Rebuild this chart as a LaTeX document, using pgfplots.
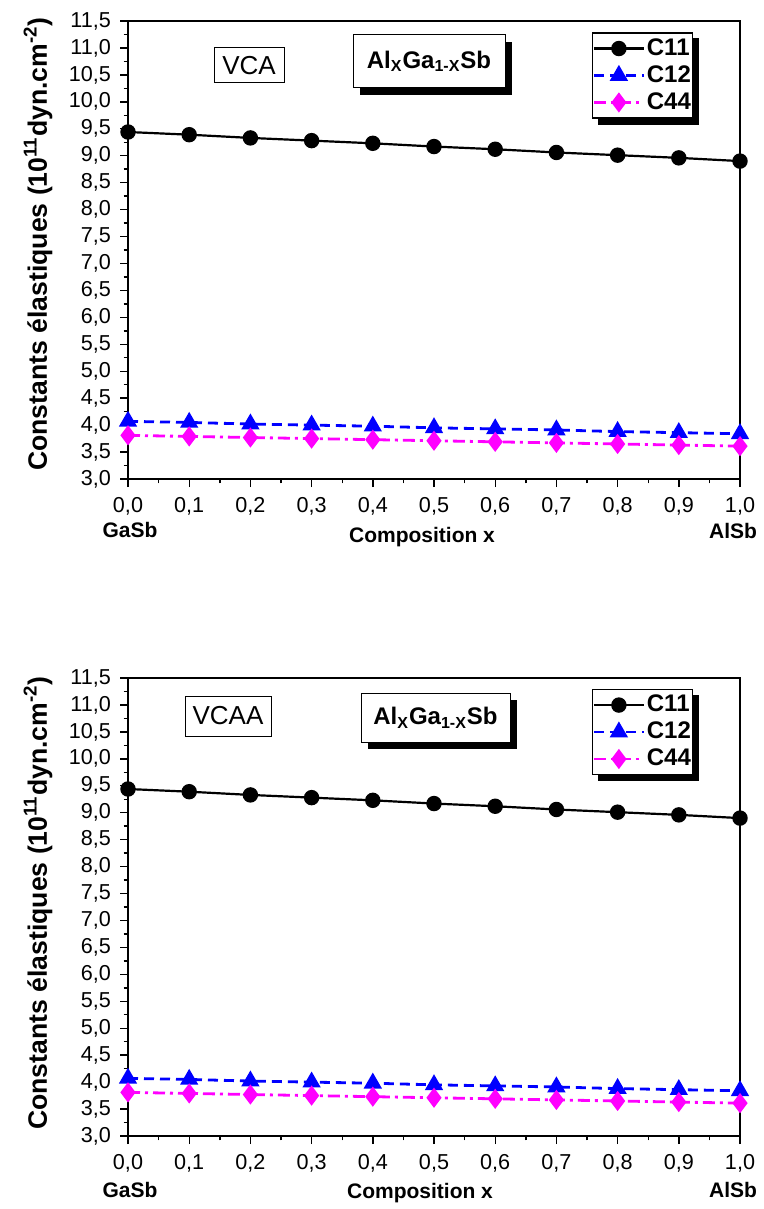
\documentclass[border=0pt]{standalone}
\usepackage{pgfplots}
\usepackage{pgfplotstable}
\pgfplotsset{compat=1.18}
\usepackage{fontspec}
\setmainfont{Liberation Sans}
\usetikzlibrary{shadows,backgrounds}
\definecolor{cblue}{RGB}{0,0,255}
\definecolor{cmag}{RGB}{255,0,255}

\pgfplotstableread{
x    c11   c12   c44
0.0  9.44  4.07  3.81
0.1  9.39  4.05  3.79
0.2  9.33  4.02  3.77
0.3  9.28  4.00  3.75
0.4  9.23  3.98  3.73
0.5  9.17  3.95  3.71
0.6  9.12  3.93  3.69
0.7  9.06  3.91  3.67
0.8  9.01  3.88  3.65
0.9  8.96  3.86  3.63
1.0  8.90  3.84  3.61
}\datatop

\pgfplotstableread{
x    c11   c12   c44
0.0  9.44  4.07  3.81
0.1  9.39  4.05  3.79
0.2  9.33  4.02  3.77
0.3  9.28  4.00  3.75
0.4  9.23  3.98  3.73
0.5  9.17  3.95  3.71
0.6  9.12  3.93  3.69
0.7  9.06  3.91  3.67
0.8  9.01  3.88  3.65
0.9  8.96  3.86  3.63
1.0  8.90  3.84  3.61
}\databot

\pgfplotsset{
  myaxis/.style={
    width=306pt, height=229pt, scale only axis,
    xmin=0, xmax=1, ymin=3, ymax=11.5,
    xtick={0,0.1,0.2,0.3,0.4,0.5,0.6,0.7,0.8,0.9,1.0},
    ytick={3,3.5,4,4.5,5,5.5,6,6.5,7,7.5,8,8.5,9,9.5,10,10.5,11,11.5},
    minor x tick num=1, minor y tick num=1,
    tick align=outside, xtick pos=bottom, ytick pos=left,
    major tick length=4pt, minor tick length=2.2pt,
    axis line style={line width=0.9pt},
    every tick/.style={black, line width=0.7pt},
    tick label style={font=\fontsize{10.8}{12}\selectfont},
    /pgf/number format/.cd, use comma, fixed, fixed zerofill, precision=1, assume math mode=true,
    /pgfplots/.cd,
    xticklabel style={yshift=-1.5pt},
    yticklabel style={xshift=-1pt},
    legend cell align=left,
    legend image code/.code={
      \draw[mark repeat=2,mark phase=2,##1] plot coordinates {(0pt,0pt) (12.5pt,0pt) (25pt,0pt)};
    },
    legend style={draw=black, line width=0.6pt, fill=white,
      font=\bfseries\fontsize{12}{12}\selectfont,
      inner xsep=0pt, inner ysep=1pt, row sep=0pt,
      nodes={inner xsep=0.8pt, inner ysep=1.8pt}},
  },
  s11/.style={black, line width=1.1pt, mark=*, mark size=3.3pt, mark options={solid}},
  s12/.style={cblue, line width=1.4pt, dash pattern=on 5pt off 3pt, mark=triangle*, mark size=3.9pt, mark options={solid}},
  s44/.style={cmag, line width=1.4pt, dash pattern=on 6pt off 2.5pt on 1.5pt off 2.5pt, mark=diamond*, mark size=3.9pt, mark options={solid}},
}

\begin{document}
\begin{tikzpicture}[x=0.5pt,y=-0.5pt]
\useasboundingbox (0,0) rectangle (764,1209);

% ---------- top chart ----------
\begin{axis}[myaxis, at={(64pt,-239.5pt)}, anchor=south west,
  legend style={at={(0.758,0.975)}, anchor=north west, name=legA}]
\addplot[s11] table[x=x,y=c11] {\datatop}; \addlegendentry{C11}
\addplot[s12] table[x=x,y=c12] {\datatop}; \addlegendentry{C12}
\addplot[s44] table[x=x,y=c44] {\datatop}; \addlegendentry{C44}
\end{axis}
\begin{scope}[on background layer]
\fill[black] ([xshift=3pt,yshift=-3pt]legA.south west) rectangle ([xshift=3pt,yshift=-3pt]legA.north east);
\end{scope}
\node[rotate=90, font=\bfseries\fontsize{13.3}{14}\selectfont] at (38,244)
  {Constants élastiques (10\textsuperscript{11}dyn.cm\textsuperscript{-2})};
\node[font=\bfseries\fontsize{10.5}{12}\selectfont] at (130,530) {GaSb};
\node[font=\bfseries\fontsize{10.5}{12}\selectfont] at (422,537) {Composition x};
\node[font=\bfseries\fontsize{10.5}{12}\selectfont] at (733,531) {AlSb};
\node[draw, line width=0.5pt, fill=white, minimum width=35pt, minimum height=17.5pt,
  inner sep=0pt, font=\fontsize{13}{14}\selectfont] at (249,65.5) {VCA};
\node[draw, line width=0.5pt, fill=white, minimum width=76pt, minimum height=26.5pt,
  inner sep=0pt, font=\bfseries\fontsize{12}{13}\selectfont,
  drop shadow={shadow xshift=3.5pt, shadow yshift=-3.5pt, fill=black, opacity=1}]
  at (429,61.5) {Al\textsubscript{X}Ga\textsubscript{1-X}Sb};

% ---------- bottom chart ----------
\begin{axis}[myaxis, at={(64pt,-568pt)}, anchor=south west,
  legend style={at={(0.758,0.976)}, anchor=north west, name=legB}]
\addplot[s11] table[x=x,y=c11] {\databot}; \addlegendentry{C11}
\addplot[s12] table[x=x,y=c12] {\databot}; \addlegendentry{C12}
\addplot[s44] table[x=x,y=c44] {\databot}; \addlegendentry{C44}
\end{axis}
\begin{scope}[on background layer]
\fill[black] ([xshift=3pt,yshift=-3pt]legB.south west) rectangle ([xshift=3pt,yshift=-3pt]legB.north east);
\end{scope}
\node[rotate=90, font=\bfseries\fontsize{13.3}{14}\selectfont] at (38,903)
  {Constants élastiques (10\textsuperscript{11}dyn.cm\textsuperscript{-2})};
\node[font=\bfseries\fontsize{10.5}{12}\selectfont] at (130,1190) {GaSb};
\node[font=\bfseries\fontsize{10.5}{12}\selectfont] at (420,1193) {Composition x};
\node[font=\bfseries\fontsize{10.5}{12}\selectfont] at (733,1190) {AlSb};
\node[draw, line width=0.5pt, fill=white, minimum width=43pt, minimum height=20pt,
  inner sep=0pt, font=\fontsize{13}{14}\selectfont] at (228,716) {VCAA};
\node[draw, line width=0.5pt, fill=white, minimum width=74.5pt, minimum height=24.5pt,
  inner sep=0pt, font=\bfseries\fontsize{12}{13}\selectfont,
  drop shadow={shadow xshift=3.5pt, shadow yshift=-3.5pt, fill=black, opacity=1}]
  at (435.5,717.5) {Al\textsubscript{X}Ga\textsubscript{1-X}Sb};
\end{tikzpicture}
\end{document}
